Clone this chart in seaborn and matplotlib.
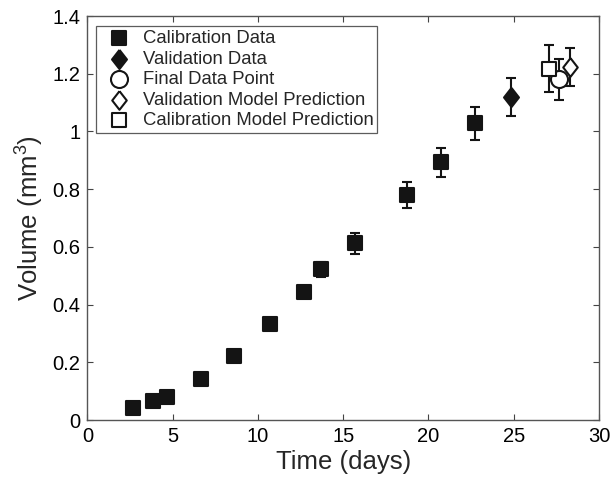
import matplotlib
matplotlib.use("Agg")
import matplotlib.pyplot as plt
import numpy as np
import pandas as pd
import seaborn as sns

# calibration data (days, mm^3, error)
cal_time = [2.67, 3.83, 4.69, 6.65, 8.62, 10.71, 12.70, 13.68, 15.70, 18.73, 20.74, 22.74]
cal_vol = [0.043, 0.066, 0.079, 0.142, 0.223, 0.333, 0.442, 0.523, 0.612, 0.780, 0.893, 1.028]
cal_err = [0.005, 0.005, 0.005, 0.008, 0.010, 0.012, 0.016, 0.026, 0.035, 0.045, 0.051, 0.058]

val_time = [24.83]
val_vol = [1.12]
val_err = [0.065]

final_time = [27.66]
final_vol = [1.18]
final_err = [0.07]

valpred_time = [28.30]
valpred_vol = [1.222]
valpred_err = [0.066]

calpred_time = [27.07]
calpred_vol = [1.218]
calpred_err = [0.082]

sns.set_style("ticks")
plt.rcParams["font.family"] = ["Liberation Sans", "DejaVu Sans"]
plt.rcParams["mathtext.fontset"] = "custom"
plt.rcParams["mathtext.rm"] = "Liberation Sans"
plt.rcParams["mathtext.default"] = "regular"

dark = "#141414"
tall_diamond = [(0, 1), (0.78, 0), (0, -1), (-0.78, 0), (0, 1)]

fig, ax = plt.subplots(figsize=(6.1, 4.82), dpi=100)
fig.subplots_adjust(left=0.1433, right=0.982, bottom=0.1286, top=0.9668)

series = [
    ("Calibration Data", cal_time, cal_vol, cal_err, "s", 115, dark),
    ("Validation Data", val_time, val_vol, val_err, tall_diamond, 190, dark),
    ("Final Data Point", final_time, final_vol, final_err, "o", 150, "white"),
    ("Validation Model Prediction", valpred_time, valpred_vol, valpred_err, tall_diamond, 180, "white"),
    ("Calibration Model Prediction", calpred_time, calpred_vol, calpred_err, "s", 95, "white"),
]

for label, t, v, e, mk, sz, face in series:
    df = pd.DataFrame({"time": t, "volume": v, "err": e})
    ax.errorbar(df["time"], df["volume"], yerr=df["err"], fmt="none",
                ecolor=dark, elinewidth=1.5, capsize=3.8, capthick=1.5, zorder=2)
    sns.scatterplot(data=df, x="time", y="volume", marker=mk, s=sz,
                    color=face, edgecolor=dark, linewidth=1.5,
                    label=label, ax=ax, zorder=3)
    ax.collections[-1].set_joinstyle("round")

ax.set_xlim(0, 30)
ax.set_ylim(0, 1.4)
ax.set_xticks(np.arange(0, 31, 5))
ax.set_yticks(np.arange(0, 1.41, 0.2))
ax.set_yticklabels(["0", "0.2", "0.4", "0.6", "0.8", "1", "1.2", "1.4"])
ax.tick_params(direction="in", top=True, right=True, length=4, width=0.8,
               labelsize=14.5, colors="#444444", labelcolor="black", pad=5)
for sp in ax.spines.values():
    sp.set_visible(True)
    sp.set_color("#555555")
    sp.set_linewidth(1.0)

ax.set_xlabel("Time (days)", fontsize=18.5, labelpad=3)
ax.set_ylabel("Volume (mm$^{3}$)", fontsize=18.5, labelpad=5)

leg = ax.legend(loc="upper left", bbox_to_anchor=(0.017, 0.975), fontsize=13.3,
                frameon=True, fancybox=False, borderpad=0.22, labelspacing=0.19,
                handletextpad=0.3, handlelength=2.0, borderaxespad=0)
leg.get_frame().set_edgecolor("#333333")
leg.get_frame().set_linewidth(0.9)

fig.savefig("out.png", dpi=100)
